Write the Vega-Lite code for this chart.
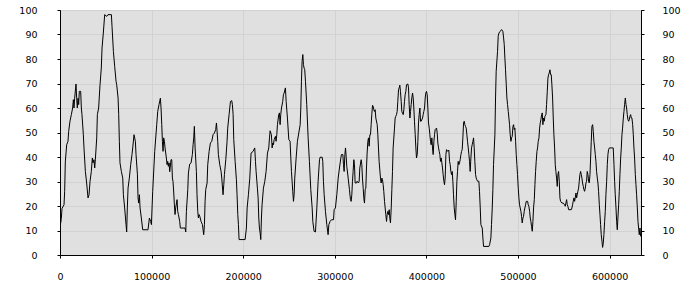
{
  "$schema": "https://vega.github.io/schema/vega-lite/v6.json",
  "width": 581,
  "height": 245,
  "autosize": {"type": "none"},
  "padding": {"left": 60, "top": 10, "right": 59, "bottom": 35},
  "background": "white",
  "config": {
    "view": {"fill": "#e0e0e0", "stroke": "#000000", "strokeWidth": 1},
    "axis": {
      "labelFont": "DejaVu Sans",
      "labelFontSize": 9.5,
      "labelColor": "#000000",
      "domainColor": "#000000",
      "tickColor": "#000000",
      "tickSize": 3,
      "gridColor": "#d2d2d2",
      "gridWidth": 1,
      "title": null
    }
  },
  "datasets": {
    "series": [
      {"x":0,"y":14.5},{"x":700,"y":13},{"x":1500,"y":15},{"x":2200,"y":19},{"x":4400,"y":20.5},{"x":5100,"y":26},{"x":5800,"y":38},{"x":7300,"y":45},{"x":8700,"y":46.4},{"x":9500,"y":50.5},{"x":10900,"y":54.6},{"x":12400,"y":57.3},{"x":13800,"y":60},{"x":14600,"y":63.4},{"x":15300,"y":60},{"x":16000,"y":64},{"x":17500,"y":69.8},{"x":18200,"y":64},{"x":18900,"y":60},{"x":19700,"y":64},{"x":20400,"y":61.4},{"x":21100,"y":66.8},{"x":22600,"y":66.8},{"x":23300,"y":60},{"x":24000,"y":57.3},{"x":25500,"y":49.1},{"x":26200,"y":43.7},{"x":27700,"y":34.1},{"x":29100,"y":29.4},{"x":30600,"y":23.3},{"x":31700,"y":24.6},{"x":32800,"y":30.1},{"x":34200,"y":34.1},{"x":35300,"y":39.6},{"x":36000,"y":37.6},{"x":37100,"y":38.9},{"x":37900,"y":35.5},{"x":38600,"y":38.9},{"x":40100,"y":47.8},{"x":40800,"y":57.3},{"x":42200,"y":60},{"x":43700,"y":69.5},{"x":45100,"y":76.3},{"x":45900,"y":84.5},{"x":47300,"y":90.6},{"x":48800,"y":98.1},{"x":51000,"y":97.4},{"x":52400,"y":98.1},{"x":56100,"y":98.1},{"x":56800,"y":93.3},{"x":58300,"y":83.1},{"x":59700,"y":77},{"x":61200,"y":70.9},{"x":61900,"y":69.5},{"x":63400,"y":64.1},{"x":64100,"y":57.3},{"x":64800,"y":46.4},{"x":65500,"y":37.6},{"x":67000,"y":34.1},{"x":68500,"y":31.4},{"x":69200,"y":24.6},{"x":70600,"y":19.2},{"x":72100,"y":12.4},{"x":72800,"y":9.4},{"x":73500,"y":19.2},{"x":74300,"y":27.3},{"x":75700,"y":31.4},{"x":77200,"y":36.9},{"x":78600,"y":41},{"x":79400,"y":43.7},{"x":80800,"y":49.1},{"x":82300,"y":46.4},{"x":83000,"y":41},{"x":84500,"y":33},{"x":85200,"y":23.3},{"x":85900,"y":21.2},{"x":86700,"y":24.6},{"x":87400,"y":19.2},{"x":88800,"y":15.1},{"x":90300,"y":10.3},{"x":96100,"y":10.3},{"x":97600,"y":15.1},{"x":99000,"y":13.7},{"x":99800,"y":12.4},{"x":101200,"y":26},{"x":103400,"y":42.3},{"x":105600,"y":53.2},
      {"x":106700,"y":58.6},{"x":108100,"y":61.4},{"x":109600,"y":64},{"x":110300,"y":60},{"x":111100,"y":53.2},{"x":111800,"y":46.4},{"x":112500,"y":42.3},{"x":113200,"y":47.8},{"x":114000,"y":46.4},{"x":114700,"y":43.7},{"x":116100,"y":39.6},{"x":116900,"y":36.9},{"x":117600,"y":38.2},{"x":118300,"y":36.2},{"x":119100,"y":37.6},{"x":119800,"y":34},{"x":121200,"y":38.9},{"x":122000,"y":38.9},{"x":122700,"y":31.4},{"x":123400,"y":30},{"x":124200,"y":25.3},{"x":124900,"y":20.5},{"x":125600,"y":16.5},{"x":126300,"y":19.2},{"x":127800,"y":22.6},{"x":128500,"y":17.8},{"x":129300,"y":16.5},{"x":130700,"y":13.7},{"x":131400,"y":11},{"x":136500,"y":11},{"x":137300,"y":9.4},{"x":138000,"y":17.8},{"x":139500,"y":26.7},{"x":140200,"y":33.5},{"x":141600,"y":37.1},{"x":143100,"y":37.6},{"x":144500,"y":41},{"x":145300,"y":45},{"x":146000,"y":47.8},{"x":146700,"y":52.5},{"x":147500,"y":43.7},{"x":148900,"y":34.1},{"x":149600,"y":24.6},{"x":150400,"y":17.8},{"x":151100,"y":15.1},{"x":151800,"y":16.5},{"x":152600,"y":15.8},{"x":154000,"y":13.7},{"x":155500,"y":12.4},{"x":156900,"y":8.3},{"x":157700,"y":12.4},{"x":158400,"y":21.9},{"x":159100,"y":26.7},{"x":160600,"y":29.4},{"x":161300,"y":36.9},{"x":162800,"y":42.3},{"x":164200,"y":45.7},{"x":165700,"y":46.4},{"x":167100,"y":49.1},{"x":168600,"y":49.8},{"x":170000,"y":51.2},{"x":170800,"y":53.9},{"x":171500,"y":50.5},{"x":172200,"y":46.4},{"x":172900,"y":41},{"x":174400,"y":36.9},{"x":175900,"y":34},{"x":176600,"y":31.4},{"x":178000,"y":24.6},{"x":178800,"y":28.7},{"x":179500,"y":32.8},{"x":181000,"y":38.9},{"x":182400,"y":46.4},{"x":183100,"y":51.8},{"x":184600,"y":57.3},{"x":186100,"y":62.7},{"x":187500,"y":63},{"x":188200,"y":61.4},{"x":189000,"y":57.3},{"x":189700,"y":47.1},{"x":191200,"y":38.2},{"x":192600,"y":30.7},{"x":193300,"y":24.6},{"x":194100,"y":16.5},{"x":194800,"y":12.4},{"x":195500,"y":6.3},{"x":202100,"y":6.3},{"x":203500,"y":11},{"x":204300,"y":19.2},{"x":205700,"y":24.6},{"x":207200,"y":31.4},{"x":208600,"y":41.6},{"x":210800,"y":42.3},
      {"x":212600,"y":43.7},{"x":213400,"y":38.2},{"x":214100,"y":34.1},{"x":215500,"y":27.3},{"x":216300,"y":23.3},{"x":217000,"y":15.1},{"x":217700,"y":11},{"x":218500,"y":9},{"x":219200,"y":6.3},{"x":219900,"y":15.1},{"x":220600,"y":20.5},{"x":222100,"y":27.3},{"x":223600,"y":30.1},{"x":225000,"y":34.1},{"x":226500,"y":41.6},{"x":227900,"y":43.7},{"x":228700,"y":47.8},{"x":229400,"y":50.7},{"x":230800,"y":49.1},{"x":231600,"y":43.7},{"x":232300,"y":45.7},{"x":233000,"y":45},{"x":233800,"y":47.1},{"x":234500,"y":47.8},{"x":235200,"y":48.4},{"x":235900,"y":46.4},{"x":236700,"y":49.1},{"x":237400,"y":53.2},{"x":238800,"y":57.3},{"x":239600,"y":58},{"x":240300,"y":53.2},{"x":241000,"y":57.3},{"x":241800,"y":60},{"x":243200,"y":62.7},{"x":243900,"y":65.4},{"x":244700,"y":66.1},{"x":246100,"y":68.2},{"x":246900,"y":62.7},{"x":248300,"y":55.9},{"x":249800,"y":47.1},{"x":251200,"y":46.4},{"x":252000,"y":39.6},{"x":252700,"y":34.1},{"x":254100,"y":26},{"x":254900,"y":21.9},{"x":255600,"y":24.6},{"x":256300,"y":31.4},{"x":257800,"y":39.6},{"x":259200,"y":46.4},{"x":260700,"y":49.8},{"x":262200,"y":53.2},{"x":262900,"y":60},{"x":263600,"y":70.9},{"x":264300,"y":79},{"x":265100,"y":81.8},{"x":265800,"y":77.7},{"x":266500,"y":76.3},{"x":267200,"y":75.6},{"x":268000,"y":70.9},{"x":269400,"y":61.4},{"x":270900,"y":47.8},{"x":272300,"y":38.2},{"x":273800,"y":26.7},{"x":275300,"y":19.2},{"x":276000,"y":13.7},{"x":277400,"y":9.7},{"x":278900,"y":9.4},{"x":280400,"y":19.2},{"x":281800,"y":30.1},{"x":283300,"y":38.9},{"x":284000,"y":39.9},{"x":286200,"y":39.9},{"x":286900,"y":38.2},{"x":287600,"y":30.1},{"x":288400,"y":24.6},{"x":289800,"y":17.8},{"x":291300,"y":12.4},{"x":292700,"y":8.3},{"x":293500,"y":12.4},{"x":294900,"y":13.7},{"x":296400,"y":14.4},{"x":298600,"y":14.4},{"x":299300,"y":18.5},{"x":300700,"y":19.2},{"x":302200,"y":24.6},{"x":303700,"y":31.4},{"x":305100,"y":35.5},{"x":306600,"y":39.6},{"x":307300,"y":41},{"x":308800,"y":41},{"x":309500,"y":36.9},{"x":310200,"y":34.1},{"x":311000,"y":41},{"x":311700,"y":43.7},{"x":312400,"y":40.3},{"x":313100,"y":36.2},{"x":314600,"y":31.4},{"x":316000,"y":26.7},{"x":317100,"y":22.6},
      {"x":317900,"y":21.9},{"x":318600,"y":24.6},{"x":319300,"y":30.1},{"x":320000,"y":34.1},{"x":320800,"y":38.9},{"x":321500,"y":36.9},{"x":322200,"y":29.4},{"x":323700,"y":29.4},{"x":324400,"y":30.1},{"x":325900,"y":29.4},{"x":326600,"y":30.1},{"x":327300,"y":35.5},{"x":328800,"y":38.9},{"x":329500,"y":36.9},{"x":330200,"y":31.4},{"x":331000,"y":27.3},{"x":331700,"y":23.3},{"x":332400,"y":21.2},{"x":333200,"y":26.7},{"x":333900,"y":27.3},{"x":334600,"y":35.5},{"x":335300,"y":41.6},{"x":336100,"y":46.4},{"x":336800,"y":47.8},{"x":337500,"y":44.4},{"x":338300,"y":49.1},{"x":339000,"y":49.1},{"x":339700,"y":53.2},{"x":340400,"y":57.3},{"x":341200,"y":61.1},{"x":341900,"y":60.7},{"x":342600,"y":59.3},{"x":343300,"y":58.6},{"x":344100,"y":59.3},{"x":344800,"y":55.9},{"x":346300,"y":53.2},{"x":347000,"y":49.1},{"x":347700,"y":43.7},{"x":348400,"y":38.2},{"x":349900,"y":31.4},{"x":350600,"y":29.4},{"x":351400,"y":31.4},{"x":352100,"y":30.7},{"x":352800,"y":28.7},{"x":353500,"y":26},{"x":354300,"y":21.9},{"x":355700,"y":16.5},{"x":356500,"y":13.7},{"x":357200,"y":16.5},{"x":357900,"y":17.8},{"x":358600,"y":16.5},{"x":359400,"y":18.5},{"x":360100,"y":15.1},{"x":360800,"y":13.1},{"x":361600,"y":19.2},{"x":362300,"y":26.7},{"x":363000,"y":34.1},{"x":363700,"y":43.7},{"x":365200,"y":51.8},{"x":365900,"y":55.9},{"x":366600,"y":56.6},{"x":367400,"y":57.3},{"x":368100,"y":58.6},{"x":368800,"y":62.7},{"x":369600,"y":67.5},{"x":370300,"y":68.2},{"x":371000,"y":69.3},{"x":371700,"y":66.8},{"x":372500,"y":62.7},{"x":373200,"y":58.6},{"x":373900,"y":57.9},{"x":374700,"y":57.3},{"x":375400,"y":59.3},{"x":376100,"y":62.7},{"x":376800,"y":65.4},{"x":377600,"y":66.8},{"x":378300,"y":69.5},{"x":379800,"y":69.8},{"x":380500,"y":68.2},{"x":381200,"y":61.4},{"x":382000,"y":55.9},{"x":382700,"y":58.6},{"x":383400,"y":61.4},{"x":384100,"y":64.1},{"x":384900,"y":66.1},{"x":385600,"y":64.1},{"x":386300,"y":60},{"x":387000,"y":54.6},{"x":387800,"y":49.1},{"x":388500,"y":43.7},{"x":389200,"y":39.6},{"x":390000,"y":41},{"x":390700,"y":46.4},{"x":391400,"y":53.9},{"x":392100,"y":57.3},{"x":392900,"y":60},{"x":393600,"y":54.6},{"x":394300,"y":54.6},{"x":395800,"y":55.9},{"x":396500,"y":57.3},{"x":397200,"y":58.6},{"x":398000,"y":60},{"x":398700,"y":64.1},{"x":399400,"y":66.1},{"x":400100,"y":66.8},{"x":400900,"y":65.4},{"x":401600,"y":60},{"x":402300,"y":53.9},{"x":403100,"y":51.8},{"x":403800,"y":49.1},{"x":404500,"y":46.4},{"x":405200,"y":45},{"x":406000,"y":47.8},{"x":406700,"y":43.7},{"x":407400,"y":41},{"x":408200,"y":46.4},{"x":408900,"y":49.1},{"x":409600,"y":51.2},{"x":411100,"y":51.8},{"x":411800,"y":49.8},{"x":412500,"y":45.7},{"x":413300,"y":43.7},{"x":414000,"y":42.3},{"x":414700,"y":41},{"x":415400,"y":38.2},{"x":416200,"y":39.6},{"x":416900,"y":37.6},{"x":417600,"y":35.5},{"x":418300,"y":32.8},{"x":419100,"y":30.1},{"x":419800,"y":28.7},{"x":420500,"y":31.4},{"x":421300,"y":41},{"x":422000,"y":43},{"x":423400,"y":42.3},{"x":424500,"y":42.8},
      {"x":425300,"y":38.2},{"x":426000,"y":36.9},{"x":426700,"y":34.1},{"x":427500,"y":32.8},{"x":428200,"y":34.1},{"x":428900,"y":30.1},{"x":429600,"y":24.6},{"x":430400,"y":19.2},{"x":431100,"y":16.5},{"x":431800,"y":14.4},{"x":432600,"y":21.9},{"x":433300,"y":30.1},{"x":434000,"y":34.1},{"x":434700,"y":38.2},{"x":435500,"y":36.9},{"x":436200,"y":37.6},{"x":436900,"y":38.9},{"x":437700,"y":41},{"x":438400,"y":42.3},{"x":439100,"y":43},{"x":439800,"y":47.8},{"x":440600,"y":53.9},{"x":441300,"y":54.6},{"x":442000,"y":53.2},{"x":442700,"y":52.5},{"x":443500,"y":51.8},{"x":444200,"y":49.1},{"x":444900,"y":46.4},{"x":445700,"y":43.7},{"x":446400,"y":41},{"x":447100,"y":38.2},{"x":447800,"y":34.1},{"x":448600,"y":39.6},{"x":449300,"y":43.7},{"x":450000,"y":45},{"x":450800,"y":46.4},{"x":451500,"y":47.8},{"x":452200,"y":43.7},{"x":452900,"y":38.2},{"x":453700,"y":32.8},{"x":454400,"y":31.4},{"x":455100,"y":30.7},{"x":455900,"y":30.1},{"x":457300,"y":30.1},{"x":458000,"y":26},{"x":458800,"y":19.2},{"x":459500,"y":12.4},{"x":461000,"y":11},{"x":461700,"y":6.9},{"x":462400,"y":3.5},{"x":468200,"y":3.5},{"x":469000,"y":4.2},{"x":470400,"y":6.9},{"x":471100,"y":12.4},{"x":471900,"y":19.2},{"x":472600,"y":26.7},{"x":473300,"y":36.9},{"x":474800,"y":49.1},{"x":475500,"y":64.1},{"x":476200,"y":75},{"x":477700,"y":83.1},{"x":478400,"y":89.3},{"x":479200,"y":90.6},{"x":480600,"y":91.3},{"x":482100,"y":92},{"x":483500,"y":91.3},{"x":484300,"y":88.6},{"x":485000,"y":85.9},{"x":485700,"y":80.4},{"x":486400,"y":75.6},{"x":487200,"y":69.5},{"x":487900,"y":64.1},{"x":488600,"y":61.4},{"x":489400,"y":58.6},{"x":490100,"y":55.9},{"x":490800,"y":53.2},{"x":491500,"y":49.1},{"x":492300,"y":46.4},{"x":493000,"y":47.8},{"x":493700,"y":48.4},{"x":494500,"y":52.5},{"x":495200,"y":53.2},{"x":495900,"y":51.2},{"x":496600,"y":51.8},{"x":497400,"y":46.4},{"x":498100,"y":41},{"x":498800,"y":36.9},{"x":499500,"y":32.8},{"x":500300,"y":27.3},{"x":501000,"y":23.3},{"x":501700,"y":20.5},{"x":503200,"y":17.8},{"x":503900,"y":15.8},{"x":504600,"y":13.1},{"x":505400,"y":15.1},{"x":506100,"y":15.8},{"x":506800,"y":17.8},{"x":507500,"y":19.2},{"x":508300,"y":20.5},{"x":509000,"y":21.9},{"x":510500,"y":21.9},{"x":511200,"y":20.5},{"x":511900,"y":19.9},{"x":512700,"y":17.8},{"x":513400,"y":15.1},{"x":514100,"y":13.7},{"x":514800,"y":11.6},{"x":515600,"y":9.7},{"x":516300,"y":13.7},{"x":517000,"y":19.2},{"x":517800,"y":22.6},{"x":518500,"y":28.7},{"x":519200,"y":34.1},{"x":519900,"y":38.2},{"x":520700,"y":42.3},{"x":521400,"y":43.7},{"x":522100,"y":46.4},{"x":522900,"y":47.8},{"x":523600,"y":51.8},{"x":524300,"y":53.9},{"x":525000,"y":55.2},{"x":525800,"y":57.3},{"x":526500,"y":58},{"x":527200,"y":53.2},{"x":527900,"y":55.9},{"x":528700,"y":54.6},{"x":529400,"y":56.6},
      {"x":530500,"y":57.3},{"x":531200,"y":61.4},{"x":532000,"y":66.8},{"x":532700,"y":72.2},{"x":533400,"y":73.6},{"x":534100,"y":74.3},{"x":534900,"y":75.6},{"x":535600,"y":73.6},{"x":536300,"y":73.6},{"x":537000,"y":69.5},{"x":537800,"y":64.1},{"x":538500,"y":55.9},{"x":539200,"y":49.1},{"x":540000,"y":43.7},{"x":540700,"y":36.9},{"x":541400,"y":34.1},{"x":542100,"y":31.4},{"x":542900,"y":28},{"x":543600,"y":32.8},{"x":544300,"y":34.1},{"x":545100,"y":30.1},{"x":545800,"y":23.3},{"x":546500,"y":21.9},{"x":548000,"y":21.2},{"x":549400,"y":21.2},{"x":550900,"y":20.5},{"x":551600,"y":19.9},{"x":552300,"y":21.2},{"x":553100,"y":22.6},{"x":553800,"y":20.5},{"x":554500,"y":19.9},{"x":555300,"y":18.5},{"x":558200,"y":18.5},{"x":558900,"y":19.2},{"x":559600,"y":20.5},{"x":560300,"y":21.9},{"x":561100,"y":23.3},{"x":561800,"y":21.9},{"x":562500,"y":23.3},{"x":563300,"y":25.3},{"x":564000,"y":23.3},{"x":564700,"y":24.6},{"x":565400,"y":26},{"x":566200,"y":27.3},{"x":566900,"y":30.1},{"x":567600,"y":32.8},{"x":568400,"y":34.1},{"x":569100,"y":32.8},{"x":569800,"y":31.4},{"x":570500,"y":29.4},{"x":571300,"y":28},{"x":572000,"y":26.7},{"x":572700,"y":26},{"x":573500,"y":27.3},{"x":574200,"y":29.4},{"x":574900,"y":30.1},{"x":575600,"y":34.1},{"x":576400,"y":32.8},{"x":577100,"y":30.1},{"x":577800,"y":29.4},{"x":578600,"y":32.8},{"x":579300,"y":39.6},{"x":580000,"y":46.4},{"x":580700,"y":52.5},{"x":581500,"y":53.2},{"x":582200,"y":50.5},{"x":582900,"y":46.4},{"x":583700,"y":43.7},{"x":584400,"y":41},{"x":585100,"y":38.2},{"x":585800,"y":34.1},{"x":586600,"y":31.4},{"x":587300,"y":29.4},{"x":588000,"y":26},{"x":588800,"y":20.5},{"x":589500,"y":16.5},{"x":590200,"y":12.4},{"x":590900,"y":8.3},{"x":591700,"y":5.6},{"x":592400,"y":3.1},{"x":593100,"y":4.8},{"x":593800,"y":8.3},{"x":594600,"y":13.7},{"x":595300,"y":17.8},{"x":596000,"y":24.6},{"x":596800,"y":30.1},{"x":597500,"y":36.9},{"x":598200,"y":41},{"x":598900,"y":43},{"x":599700,"y":43.7},{"x":604000,"y":43.7},{"x":604800,"y":36.9},{"x":605500,"y":30.1},{"x":606200,"y":24.6},{"x":607000,"y":19.2},{"x":607700,"y":13.7},{"x":608400,"y":10.3},{"x":609100,"y":15.1},{"x":609900,"y":20.5},{"x":610600,"y":26},{"x":611300,"y":32.8},{"x":612100,"y":39.6},{"x":612800,"y":43.7},{"x":613500,"y":49.1},{"x":614200,"y":51.8},{"x":615000,"y":55.9},{"x":615700,"y":58.6},{"x":616400,"y":61.4},{"x":617200,"y":64.1},{"x":617900,"y":61.4},{"x":618600,"y":60},{"x":619300,"y":57.3},{"x":620100,"y":55.2},{"x":620800,"y":54.6},{"x":621500,"y":55.2},{"x":622200,"y":56.6},{"x":623000,"y":57.3},{"x":623700,"y":55.9},{"x":624400,"y":55.9},{"x":625200,"y":53.2},{"x":625900,"y":49.1},{"x":626600,"y":43.7},{"x":627300,"y":39.6},{"x":628100,"y":32.8},{"x":628800,"y":28.7},{"x":629500,"y":24.6},{"x":630300,"y":19.2},{"x":631000,"y":13.7},{"x":631700,"y":11},{"x":632400,"y":8.3},{"x":633200,"y":11},{"x":633900,"y":7.6}
    ]
  },
  "data": {"name": "series"},
  "layer": [
    {
      "mark": {"type": "line", "color": "#000000", "strokeWidth": 1, "clip": true},
      "encoding": {
        "x": {"field": "x", "type": "quantitative",
              "scale": {"domain": [0, 634300], "nice": false, "zero": false},
              "axis": {"values": [0,100000,200000,300000,400000,500000,600000], "format": "d", "labelPadding": 13, "grid": true, "labelFlush": false}},
        "y": {"field": "y", "type": "quantitative",
              "scale": {"domain": [0, 100], "nice": false},
              "axis": {"orient": "left", "values": [0,10,20,30,40,50,60,70,80,90,100], "labelPadding": 20, "grid": true}}
      }
    },
    {
      "mark": {"type": "line", "strokeOpacity": 0},
      "encoding": {
        "x": {"field": "x", "type": "quantitative"},
        "y": {"field": "y", "type": "quantitative",
              "axis": {"orient": "right", "values": [0,10,20,30,40,50,60,70,80,90,100], "labelPadding": 18, "grid": false}}
      }
    }
  ],
  "resolve": {"axis": {"y": "independent"}}
}
